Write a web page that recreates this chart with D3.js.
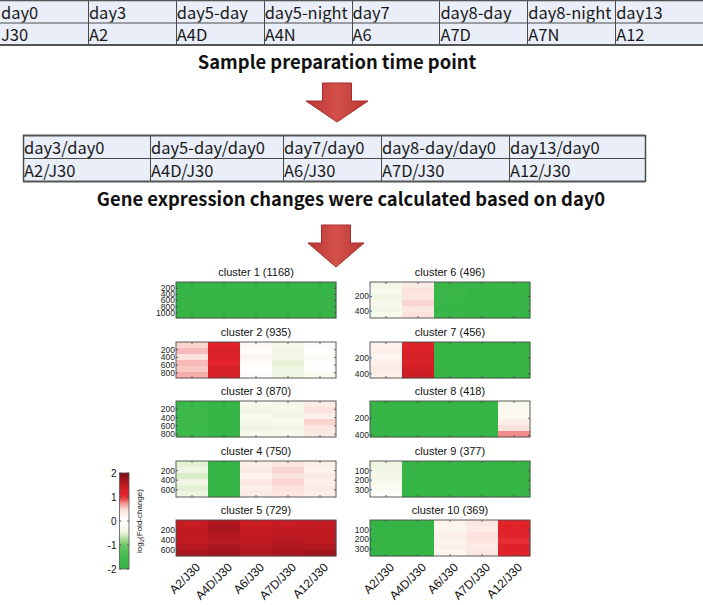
<!DOCTYPE html>
<html><head><meta charset="utf-8">
<script src="https://cdn.jsdelivr.net/npm/d3@7"></script>
<style>body{margin:0;background:#fff}svg{display:block}</style>
</head><body>
<svg id="c" width="703" height="605"></svg>
<script>
// ---------------- DATA ----------------
const samplePoints = ["day0","day3","day5-day","day5-night","day7","day8-day","day8-night","day13"];
const sampleCodes  = ["J30","A2","A4D","A4N","A6","A7D","A7N","A12"];
const ratioPoints  = ["day3/day0","day5-day/day0","day7/day0","day8-day/day0","day13/day0"];
const ratioCodes   = ["A2/J30","A4D/J30","A6/J30","A7D/J30","A12/J30"];
const title1 = "Sample preparation time point";
const title2 = "Gene expression changes were calculated based on day0";

const xLabels = ["A2/J30","A4D/J30","A6/J30","A7D/J30","A12/J30"];
const clusterIds   = [1,2,3,4,5,6,7,8,9,10];
const clusterSizes = [1168,935,870,750,729,496,456,418,377,369];
const clusterTicks = [[200,400,600,800,1000],[200,400,600,800],[200,400,600,800],[200,400,600],[200,400,600],
                      [200,400],[200,400],[200,400],[100,200,300],[100,200,300]];
const colorbarTicks = [2,1,0,-1,-2];

// log2 fold-change, row bands (top -> bottom) x 5 comparisons
const c1 = [[-2.1,-2.3,-2.2,-2.3,-2.2],[-2.2,-2.3,-2.3,-2.2,-2.3],[-2.1,-2.2,-2.3,-2.3,-2.2],
            [-2.2,-2.3,-2.2,-2.3,-2.3],[-2.1,-2.3,-2.3,-2.2,-2.2],[-2.2,-2.2,-2.3,-2.3,-2.3]];
const c2 = [[0.5,1.1,0.15,-0.3,0.1],[0.6,1.2,0.05,-0.4,0.0],[0.45,1.15,0.2,-0.35,-0.15],
            [0.6,1.1,0.1,-0.5,0.05],[0.55,1.25,0.0,-0.4,-0.1],[0.65,1.2,0.1,-0.45,-0.2]];
const c3 = [[-1.7,-2.0,-0.3,-0.35,0.35],[-1.6,-2.1,-0.4,-0.3,0.45],[-1.7,-2.0,-0.25,-0.4,0.3],
            [-1.65,-2.1,-0.35,-0.25,0.5],[-1.7,-2.0,-0.4,-0.35,0.4],[-1.6,-2.1,-0.3,-0.3,0.35]];
const c4 = [[-0.5,-2.0,0.3,0.4,0.3],[-0.45,-2.1,0.35,0.5,0.25],[-0.55,-2.0,0.25,0.45,0.35],
            [-0.4,-2.1,0.4,0.5,0.3],[-0.5,-2.0,0.3,0.45,0.35],[-0.45,-2.1,0.35,0.4,0.3]];
const c5 = [[1.4,1.6,1.35,1.4,1.45],[1.45,1.65,1.4,1.45,1.45],[1.5,1.6,1.45,1.5,1.5],
            [1.45,1.55,1.5,1.55,1.5],[1.55,1.65,1.55,1.6,1.6],[1.65,1.7,1.6,1.65,1.7]];
const c6 = [[-0.35,0.35,-1.9,-2.1,-2.1],[-0.25,0.45,-1.8,-2.1,-2.0],[-0.4,0.4,-1.9,-2.0,-2.1],
            [-0.3,0.5,-1.85,-2.1,-2.1],[-0.35,0.4,-1.9,-2.0,-2.0],[-0.3,0.45,-1.8,-2.1,-2.1]];
const c7 = [[0.25,1.15,-1.9,-2.1,-2.1],[0.3,1.2,-2.0,-2.0,-2.1],[0.2,1.25,-1.9,-2.1,-2.0],
            [0.3,1.2,-1.95,-2.1,-2.1],[0.35,1.3,-1.9,-2.0,-2.1],[0.3,1.35,-2.0,-2.1,-2.0]];
const c8 = [[-2.1,-2.1,-2.0,-2.1,-0.3],[-2.1,-2.0,-2.1,-2.1,-0.2],[-2.0,-2.1,-2.1,-2.0,0.15],
            [-2.1,-2.1,-2.0,-2.1,0.3],[-2.1,-2.0,-2.1,-2.1,0.45],[-2.0,-2.1,-2.1,-2.0,0.75]];
const c9 = [[-0.45,-2.1,-2.0,-2.1,-2.1],[-0.4,-2.0,-2.1,-2.0,-2.1],[-0.35,-2.1,-2.0,-2.1,-2.0],
            [-0.3,-2.1,-2.1,-2.0,-2.1],[-0.2,-2.0,-2.0,-2.1,-2.1],[-0.1,-2.1,-2.1,-2.0,-2.0]];
const c10 = [[-2.1,-2.1,0.25,0.4,1.1],[-2.0,-2.1,0.2,0.35,1.15],[-2.1,-2.0,0.3,0.45,1.1],
             [-2.1,-2.1,0.25,0.4,1.05],[-2.0,-2.1,0.3,0.35,1.15],[-2.1,-2.0,0.2,0.4,1.1]];
const clusterValues = [c1,c2,c3,c4,c5,c6,c7,c8,c9,c10];

// ---------------- STYLE / SCALES ----------------
const cmapStops = [-2,-1.5,-1,-0.7,-0.45,-0.2,0,0.2,0.45,0.7,0.9,1.1,1.5,2];
const cmapCols  = ["#36b446","#3fbb4c","#6cc868","#b9e0a6","#eef5e0","#fbfbf2","#ffffff",
                   "#fdf6f0","#fbe2dc","#f4a0a0","#ea4a4e","#e3232a","#be1a21","#7b0e14"];
const color = d3.scaleLinear().domain(cmapStops).range(cmapCols).clamp(true);

const svg = d3.select("#c");
const defs = svg.append("defs");
const CJK = "'Noto Sans CJK KR','Noto Sans',sans-serif";
const SANS = "'Liberation Sans',Arial,sans-serif";

// ---------------- TABLE 1 ----------------
(function(){
  const x = d3.scaleBand().domain(d3.range(samplePoints.length)).range([0,703]);
  const y = d3.scaleBand().domain([0,1]).range([0,45]);
  const g = svg.append("g");
  const rows = [samplePoints, sampleCodes];
  rows.forEach((r,ri)=>{
    g.selectAll(null).data(r).enter().append("rect")
      .attr("x",(d,i)=>x(i)).attr("y",y(ri)).attr("width",x.bandwidth()).attr("height",y.bandwidth())
      .attr("fill","#e9eef8");
    g.selectAll(null).data(r).enter().append("text")
      .attr("x",(d,i)=>x(i)+1).attr("y",y(ri)+y.bandwidth()-4)
      .attr("font-family",CJK).attr("font-size",16.5).attr("fill","#1a1a1a").text(d=>d);
  });
  x.domain().forEach(i=>{ if(i>0) g.append("line").attr("x1",Math.round(x(i))+0.5).attr("x2",Math.round(x(i))+0.5)
      .attr("y1",0).attr("y2",45).attr("stroke","#4a4a4a").attr("stroke-width",1);});
  g.append("line").attr("x1",0).attr("x2",703).attr("y1",0.5).attr("y2",0.5).attr("stroke","#555").attr("stroke-width",1.5);
  g.append("line").attr("x1",0).attr("x2",703).attr("y1",23).attr("y2",23).attr("stroke","#4a4a4a").attr("stroke-width",1.2);
  g.append("line").attr("x1",0).attr("x2",703).attr("y1",45).attr("y2",45).attr("stroke","#555").attr("stroke-width",2);
})();
svg.append("text").attr("x",337).attr("y",69).attr("text-anchor","middle")
  .attr("font-family",CJK).attr("font-weight","bold").attr("font-size",18.4).attr("fill","#111").text(title1);

// ---------------- ARROWS ----------------
const ag = defs.append("linearGradient").attr("id","arrG").attr("x1","0").attr("x2","1").attr("y1","0").attr("y2","0");
ag.append("stop").attr("offset","0").attr("stop-color","#b83532");
ag.append("stop").attr("offset","0.5").attr("stop-color","#d4504b");
ag.append("stop").attr("offset","1").attr("stop-color","#b83532");
function arrow(cx, top, headY, tip, shaftHalf, headHalf){
  const p = d3.path();
  p.moveTo(cx-shaftHalf, top); p.lineTo(cx+shaftHalf, top); p.lineTo(cx+shaftHalf, headY);
  p.lineTo(cx+headHalf, headY); p.lineTo(cx, tip); p.lineTo(cx-headHalf, headY);
  p.lineTo(cx-shaftHalf, headY); p.closePath();
  svg.append("path").attr("d",p.toString()).attr("fill","url(#arrG)").attr("stroke","#a52e2b").attr("stroke-width",1);
}
arrow(337, 83, 101, 122, 14.5, 31);
arrow(336, 225, 243, 267, 14.5, 28);

// ---------------- TABLE 2 ----------------
(function(){
  const colW = [127,133,98,128,136];
  const edges = [23]; colW.forEach(w=>edges.push(edges[edges.length-1]+w));
  const y = d3.scaleBand().domain([0,1]).range([135,182]);
  const g = svg.append("g");
  [ratioPoints, ratioCodes].forEach((r,ri)=>{
    g.selectAll(null).data(r).enter().append("rect")
      .attr("x",(d,i)=>edges[i]).attr("y",y(ri)).attr("width",(d,i)=>colW[i]).attr("height",y.bandwidth())
      .attr("fill","#e9eef8");
    g.selectAll(null).data(r).enter().append("text")
      .attr("x",(d,i)=>edges[i]+1).attr("y",y(ri)+y.bandwidth()-5)
      .attr("font-family",CJK).attr("font-size",16.5).attr("fill","#1a1a1a").text(d=>d);
  });
  edges.forEach((e,i)=>{ g.append("line").attr("x1",e+0.5).attr("x2",e+0.5).attr("y1",135).attr("y2",182)
      .attr("stroke","#4a4a4a").attr("stroke-width",(i==0||i==edges.length-1)?1.5:1);});
  g.append("line").attr("x1",23).attr("x2",edges[5]).attr("y1",135.5).attr("y2",135.5).attr("stroke","#555").attr("stroke-width",2);
  g.append("line").attr("x1",23).attr("x2",edges[5]).attr("y1",158.5).attr("y2",158.5).attr("stroke","#4a4a4a").attr("stroke-width",1.2);
  g.append("line").attr("x1",23).attr("x2",edges[5]).attr("y1",181.5).attr("y2",181.5).attr("stroke","#555").attr("stroke-width",2);
})();
svg.append("text").attr("x",351).attr("y",206).attr("text-anchor","middle")
  .attr("font-family",CJK).attr("font-weight","bold").attr("font-size",18.4).attr("fill","#111").text(title2);

// ---------------- HEATMAPS ----------------
const panelLeft = [176, 370], panelTop0 = 282, rowStep = 59.5, panelW = 160, panelH = 36;
clusterIds.forEach((id, k)=>{
  const col = k<5?0:1, row = k%5;
  const px = panelLeft[col], py = Math.round(panelTop0 + row*rowStep);
  const n = clusterSizes[k], vals = clusterValues[k], B = vals.length;
  const x = d3.scaleBand().domain(xLabels).range([px, px+panelW]);
  const y = d3.scaleLinear().domain([0,n]).range([py, py+panelH]);
  const g = svg.append("g");
  vals.forEach((band,j)=>{
    g.selectAll(null).data(band).enter().append("rect")
      .attr("x",(d,i)=>x(xLabels[i])).attr("width",x.bandwidth()+0.3)
      .attr("y",y(n*j/B)).attr("height",y(n*(j+1)/B)-y(n*j/B)+0.3)
      .attr("fill",d=>color(d));
  });
  g.append("rect").attr("x",px).attr("y",py).attr("width",panelW).attr("height",panelH)
    .attr("fill","none").attr("stroke","#4d4d4d").attr("stroke-width",0.9);
  xLabels.forEach(l=>{
    const cx = x(l)+x.bandwidth()/2;
    g.append("line").attr("x1",cx).attr("x2",cx).attr("y1",py).attr("y2",py+2).attr("stroke","#444").attr("stroke-width",0.8);
    g.append("line").attr("x1",cx).attr("x2",cx).attr("y1",py+panelH).attr("y2",py+panelH-2).attr("stroke","#444").attr("stroke-width",0.8);
  });
  clusterTicks[k].forEach(t=>{
    g.append("line").attr("x1",px).attr("x2",px+2).attr("y1",y(t)).attr("y2",y(t)).attr("stroke","#444").attr("stroke-width",0.8);
    g.append("line").attr("x1",px+panelW).attr("x2",px+panelW-2).attr("y1",y(t)).attr("y2",y(t)).attr("stroke","#444").attr("stroke-width",0.8);
    g.append("text").attr("x",px-1).attr("y",y(t)).attr("dy","0.35em").attr("text-anchor","end")
      .attr("font-family",SANS).attr("font-size",8.5).attr("fill","#222").text(t);
  });
  g.append("text").attr("x",px+panelW/2).attr("y",py-6).attr("text-anchor","middle")
    .attr("font-family",SANS).attr("font-size",11).attr("fill","#111").text(`cluster ${id} (${n})`);
  if(row===4){
    xLabels.forEach(l=>{
      const cx = x(l)+x.bandwidth()/2;
      g.append("text").attr("transform",`translate(${cx+9},${py+panelH+12}) rotate(-45)`)
        .attr("text-anchor","end").attr("font-family",SANS).attr("font-size",12).attr("fill","#111").text(l);
    });
  }
});

// ---------------- COLORBAR ----------------
(function(){
  const top=473, bot=569, left=119.5, w=9.5;
  const yc = d3.scaleLinear().domain([-2,2]).range([bot,top]);
  const lg = defs.append("linearGradient").attr("id","cbG").attr("x1","0").attr("x2","0").attr("y1","1").attr("y2","0");
  cmapStops.forEach((s,i)=>lg.append("stop").attr("offset",(s+2)/4).attr("stop-color",cmapCols[i]));
  svg.append("rect").attr("x",left).attr("y",top).attr("width",w).attr("height",bot-top)
    .attr("fill","url(#cbG)").attr("stroke","#555").attr("stroke-width",0.8);
  colorbarTicks.forEach(t=>{
    svg.append("line").attr("x1",left).attr("x2",left+2).attr("y1",yc(t)).attr("y2",yc(t)).attr("stroke","#444").attr("stroke-width",0.8);
    svg.append("line").attr("x1",left+w).attr("x2",left+w-2).attr("y1",yc(t)).attr("y2",yc(t)).attr("stroke","#444").attr("stroke-width",0.8);
    svg.append("text").attr("x",116.5).attr("y",yc(t)).attr("dy","0.35em").attr("text-anchor","end")
      .attr("font-family",SANS).attr("font-size",10).attr("fill","#111").text(t<0?"-"+Math.abs(t):t);
  });
  const lt = svg.append("text").attr("transform",`translate(142,${(top+bot)/2}) rotate(-90)`)
    .attr("text-anchor","middle").attr("font-family",SANS).attr("font-size",8).attr("fill","#111");
  lt.append("tspan").text("log");
  lt.append("tspan").attr("font-size",6).attr("dy",2).text("2");
  lt.append("tspan").attr("dy",-2).text("(Fold-change)");
})();
</script>
</body></html>
